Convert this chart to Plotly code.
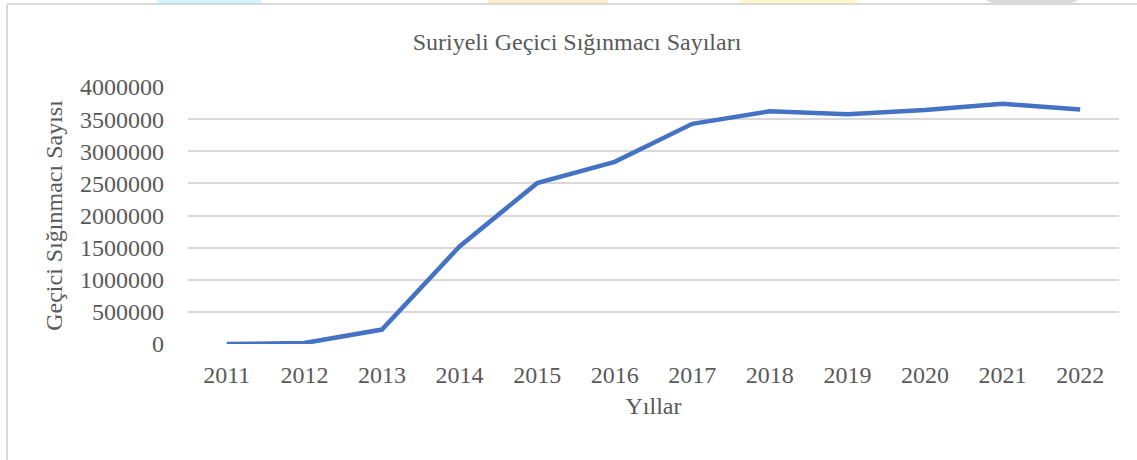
import plotly.graph_objects as go

years = ["2011", "2012", "2013", "2014", "2015", "2016", "2017", "2018", "2019", "2020", "2021", "2022"]
refugees = [0, 14237, 224655, 1519286, 2503549, 2834441, 3426786, 3623192, 3576370, 3641370, 3737369, 3650000]
y_ticks = [0, 500000, 1000000, 1500000, 2000000, 2500000, 3000000, 3500000, 4000000]

W, H = 1137, 460
L, R, T, B = 188, 18, 87, 116
pw, ph = W - L - R, H - T - B

def px(x):
    return (x - L) / pw

def py(y):
    return (H - B - y) / ph

FONT = "Liberation Serif"
GREY = "#595959"
FS = 24

fig = go.Figure()
fig.add_trace(go.Scatter(
    x=years, y=refugees, mode="lines",
    line=dict(color="#4472C4", width=4.5),
    hoverinfo="x+y", showlegend=False,
))

shapes = []
# chart border (top and left edges visible)
shapes.append(dict(type="line", xref="paper", yref="paper", x0=px(7), x1=px(1140), y0=py(4), y1=py(4),
                   line=dict(color="#D9D9D9", width=2)))
shapes.append(dict(type="line", xref="paper", yref="paper", x0=px(7), x1=px(7), y0=py(4), y1=py(462),
                   line=dict(color="#D9D9D9", width=2)))
# fragments of highlighted text from the page above
for x0, x1, col in [(157, 261, "#D2F6FA"), (488, 608, "#FFEBC8"), (740, 857, "#FFF8CC")]:
    shapes.append(dict(type="rect", xref="paper", yref="paper", x0=px(x0), x1=px(x1), y0=py(3), y1=py(0),
                       fillcolor=col, line=dict(width=0), layer="below"))
shapes.append(dict(type="path", xref="paper", yref="paper",
                   path=f"M {px(985)},{py(0)} L {px(1078)},{py(0)} L {px(1072)},{py(3)} L {px(992)},{py(3)} Z",
                   fillcolor="#DADADA", line=dict(width=0)))

fig.update_layout(
    width=W, height=H,
    margin=dict(l=L, r=R, t=T, b=B),
    paper_bgcolor="white", plot_bgcolor="white",
    font=dict(family=FONT, color=GREY, size=FS),
    title=dict(text="Suriyeli Geçici Sığınmacı Sayıları", x=577 / W, xref="container", xanchor="center",
               y=1 - 42 / H, yref="container", yanchor="middle",
               font=dict(family=FONT, color=GREY, size=FS)),
    xaxis=dict(
        type="category", showgrid=False, zeroline=False, showline=False, ticks="",
        ticklabelstandoff=14,
        tickfont=dict(family=FONT, color=GREY, size=FS),
        title=dict(text="Yıllar", font=dict(family=FONT, color=GREY, size=FS), standoff=10),
        range=[-0.5, len(years) - 0.5], fixedrange=True,
    ),
    yaxis=dict(
        range=[0, 4000000], tickvals=y_ticks, ticktext=[str(v) for v in y_ticks],
        showgrid=True, gridcolor="#D9D9D9", gridwidth=1.5, zeroline=False, showline=False,
        ticks="", ticklabelstandoff=23,
        tickfont=dict(family=FONT, color=GREY, size=FS),
        title=dict(text="Geçici Sığınmacı Sayısı", font=dict(family=FONT, color=GREY, size=FS), standoff=10),
        fixedrange=True,
    ),
    shapes=shapes,
)

fig.write_html("out.html",
               config={"displayModeBar": False},
               post_script="document.body.style.margin='0px';document.body.style.overflow='hidden';")
